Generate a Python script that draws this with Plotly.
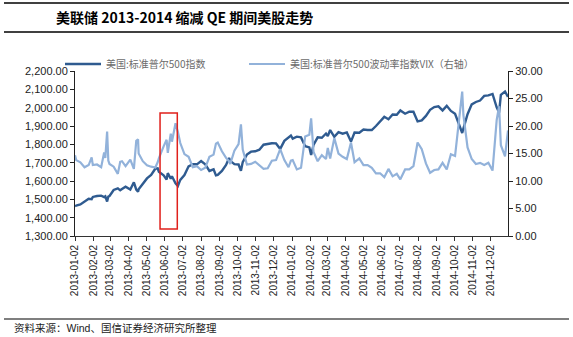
import plotly.graph_objects as go

dates = [
    "2013-01-02","2013-01-04","2013-01-11","2013-01-18","2013-01-25","2013-01-30","2013-02-01","2013-02-08",
    "2013-02-15","2013-02-20","2013-02-22","2013-02-25","2013-02-27","2013-03-01","2013-03-08","2013-03-15",
    "2013-03-19","2013-03-22","2013-03-28","2013-04-05","2013-04-11","2013-04-15","2013-04-18","2013-04-19",
    "2013-04-26","2013-05-03","2013-05-10","2013-05-17","2013-05-21","2013-05-23","2013-05-31","2013-06-05",
    "2013-06-07","2013-06-12","2013-06-14","2013-06-20","2013-06-24","2013-06-28","2013-07-05","2013-07-12",
    "2013-07-19","2013-07-26","2013-08-02","2013-08-09","2013-08-16","2013-08-23","2013-08-27","2013-08-30",
    "2013-09-06","2013-09-13","2013-09-18","2013-09-20","2013-09-27","2013-10-04","2013-10-08","2013-10-11",
    "2013-10-18","2013-10-25","2013-11-01","2013-11-08","2013-11-15","2013-11-22","2013-11-29","2013-12-06",
    "2013-12-13","2013-12-20","2013-12-27","2013-12-31",
    "2014-01-03","2014-01-10","2014-01-17","2014-01-24","2014-01-31","2014-02-03","2014-02-07","2014-02-14",
    "2014-02-21","2014-02-28","2014-03-03","2014-03-07","2014-03-14","2014-03-21","2014-03-28","2014-04-04",
    "2014-04-11","2014-04-17","2014-04-25","2014-05-02","2014-05-09","2014-05-16","2014-05-23","2014-05-30",
    "2014-06-06","2014-06-13","2014-06-20","2014-06-27","2014-07-03","2014-07-11","2014-07-18","2014-07-25",
    "2014-07-31","2014-08-01","2014-08-08","2014-08-15","2014-08-22","2014-08-29","2014-09-05","2014-09-12",
    "2014-09-19","2014-09-26","2014-10-03","2014-10-10","2014-10-15","2014-10-17","2014-10-24","2014-10-31",
    "2014-11-07","2014-11-14","2014-11-21","2014-11-28","2014-12-05","2014-12-12","2014-12-16","2014-12-19",
    "2014-12-26","2014-12-31",
]

spx = [
    1462,1466,1472,1486,1503,1501,1513,1518,
    1520,1512,1516,1488,1515,1518,1551,1560,
    1549,1556,1569,1553,1593,1553,1541,1555,
    1582,1614,1633,1667,1669,1650,1631,1608,
    1643,1612,1626,1588,1573,1606,1632,1680,
    1692,1691,1709,1691,1655,1664,1631,1633,
    1655,1688,1725,1710,1692,1690,1656,1703,
    1744,1760,1762,1771,1798,1804,1806,1805,
    1775,1819,1841,1848,
    1831,1842,1838,1790,1783,1742,1797,1838,
    1836,1859,1845,1878,1841,1866,1858,1865,
    1815,1864,1863,1881,1878,1878,1900,1924,
    1950,1937,1963,1961,1985,1967,1978,1978,
    1931,1925,1931,1955,1988,2003,2007,1985,
    2010,1982,1967,1906,1862,1886,1964,2018,
    2031,2039,2064,2067,2075,2002,1973,2070,
    2088,2059,
]

vix = [
    14.7,13.8,13.4,12.5,12.9,14.3,12.9,13.0,
    12.5,15.2,14.2,19.0,13.7,13.1,12.6,11.3,
    13.5,13.6,12.7,13.9,12.2,17.3,17.6,15.0,
    13.6,12.85,12.6,12.45,13.4,14.1,16.3,17.5,
    15.1,18.6,17.15,20.5,18.9,16.9,14.9,14.4,
    12.5,12.7,12.0,12.4,14.4,14.8,16.8,17.0,
    15.4,14.2,13.6,13.1,15.5,16.7,20.3,15.7,
    13.0,13.1,13.5,12.9,12.2,12.3,13.7,13.8,
    15.8,13.8,12.5,13.7,
    13.8,12.1,12.4,18.1,18.4,21.4,15.3,13.6,
    14.7,14.0,16.0,14.1,17.8,15.0,14.4,14.0,
    17.0,13.4,14.1,12.9,12.9,12.4,11.4,11.4,
    10.7,12.2,10.85,11.3,10.3,12.1,12.1,12.7,
    17.0,17.0,15.8,13.2,11.5,12.0,12.1,13.3,
    12.1,14.85,14.55,21.2,26.25,22.0,16.1,14.0,
    13.1,13.3,12.9,13.3,11.9,21.1,23.6,16.5,
    14.5,19.2,
]

tick_dates = [
    "2013-01-02","2013-02-02","2013-03-02","2013-04-02","2013-05-02","2013-06-02",
    "2013-07-02","2013-08-02","2013-09-02","2013-10-02","2013-11-02","2013-12-02",
    "2014-01-02","2014-02-02","2014-03-02","2014-04-02","2014-05-02","2014-06-02",
    "2014-07-02","2014-08-02","2014-09-02","2014-10-02","2014-11-02","2014-12-02",
]

series_names = ["美国:标准普尔500指数", "美国:标准普尔500波动率指数VIX（右轴）"]
title_text = "美联储 2013-2014 缩减 QE 期间美股走势"
source_text = "资料来源：Wind、国信证券经济研究所整理"

# highlight box (Fed taper talk, May-June 2013)
box_x = ["2013-05-25", "2013-06-23"]
box_y = [1338, 1971]

W, H = 573, 337
L, R, T, B = 75, 65, 71, 101
PW, PH = W - L - R, H - T - B

def px(x):
    return (x - L) / PW

def py(y):
    return (H - B - y) / PH

DARK = "#2F5B90"
LIGHT = "#92B2DA"

fig = go.Figure()
fig.add_trace(go.Scatter(x=dates, y=vix, name=series_names[1], mode="lines",
                         line=dict(color=LIGHT, width=2.2), yaxis="y2", legend="legend2"))
fig.add_trace(go.Scatter(x=dates, y=spx, name=series_names[0], mode="lines",
                         line=dict(color=DARK, width=2.4), yaxis="y", legend="legend"))

fig.add_shape(type="rect", xref="x", yref="y", x0=box_x[0], x1=box_x[1],
              y0=box_y[0], y1=box_y[1], line=dict(color="#E0201B", width=1.5))

# decorative rules
for yy in (3, 32):
    fig.add_shape(type="line", xref="paper", yref="paper", x0=px(4), x1=px(569),
                  y0=py(yy), y1=py(yy), line=dict(color="black", width=1.5))
fig.add_shape(type="line", xref="paper", yref="paper", x0=px(4), x1=px(569),
              y0=py(319), y1=py(319), line=dict(color="black", width=1.2))

fig.add_annotation(text=f"<b>{title_text}</b>", xref="paper", yref="paper",
                   x=px(54), y=py(17), xanchor="left", yanchor="middle", showarrow=False,
                   font=dict(family="Noto Sans CJK SC, Liberation Sans", size=14, color="black"))
fig.add_annotation(text=source_text, xref="paper", yref="paper",
                   x=px(12), y=py(328), xanchor="left", yanchor="middle", showarrow=False,
                   font=dict(family="Liberation Sans, Noto Sans CJK SC", size=10.5, color="#222"))

legend_font = dict(family="Noto Sans CJK SC", size=10, color="#6b6b6b")
fig.update_layout(
    width=W, height=H,
    margin=dict(l=L, r=R, t=T, b=B),
    paper_bgcolor="white", plot_bgcolor="white",
    showlegend=True,
    legend=dict(orientation="h", x=px(60), y=py(64), xanchor="left", yanchor="middle",
                font=legend_font, itemwidth=36, bgcolor="rgba(0,0,0,0)"),
    legend2=dict(orientation="h", x=px(244), y=py(64), xanchor="left", yanchor="middle",
                 font=legend_font, itemwidth=36, bgcolor="rgba(0,0,0,0)"),
    xaxis=dict(type="date", range=["2013-01-02", "2014-12-31"],
               tickmode="array", tickvals=tick_dates, ticktext=tick_dates,
               tickangle=-90, ticks="outside", ticklen=4, tickcolor="#333",
               showline=True, linecolor="#333", linewidth=1, showgrid=False, zeroline=False,
               tickfont=dict(family="Liberation Sans", size=10, color="#222")),
    yaxis=dict(range=[1300, 2200], dtick=100, tickformat=",.2f",
               ticks="outside", ticklen=4, tickcolor="#222", showline=True, linecolor="#222",
               linewidth=1, showgrid=False, zeroline=False,
               tickfont=dict(family="Liberation Sans", size=11, color="#222")),
    yaxis2=dict(range=[0, 30], dtick=5, tickformat=".2f", overlaying="y", side="right",
                ticks="outside", ticklen=4, tickcolor="#222", showline=True, linecolor="#222",
                linewidth=1, showgrid=False, zeroline=False,
                tickfont=dict(family="Liberation Sans", size=11, color="#222")),
)

fig.write_html("out.html")
